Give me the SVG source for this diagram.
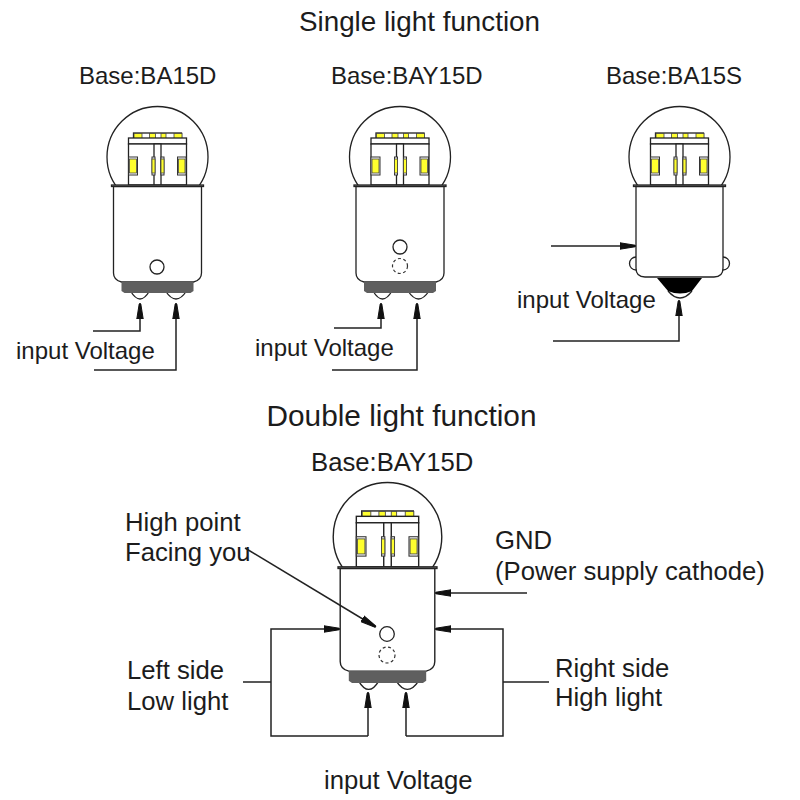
<svg xmlns="http://www.w3.org/2000/svg" xmlns:xlink="http://www.w3.org/1999/xlink" width="800" height="800" viewBox="0 0 800 800">
<style>
text{font-family:"Liberation Sans",Arial,sans-serif;fill:#1c1c1c;font-size:24px}
.b{font-size:25.700px}
.t1{font-size:27.800px}
.t2{font-size:29.800px}
.o{fill:none;stroke:#222;stroke-width:1.3}
.w{fill:#fff;stroke:#222;stroke-width:1.3}
.c{fill:none;stroke:#222;stroke-width:1.5}
.d{fill:#fff;stroke:#333;stroke-width:1.2;stroke-dasharray:3 2.5}
.y{fill:#ffff2e;stroke:#444;stroke-width:.8}
.p{fill:#fff;stroke:#333;stroke-width:1}
</style>
<defs>
<marker id="a" viewBox="0 0 16 8" refX="16" refY="4" markerWidth="16" markerHeight="8" markerUnits="userSpaceOnUse" orient="auto"><path d="M0 .8L15 3.200V4.800L0 7.200Z" fill="#111" stroke="#111" stroke-width="1"/></marker>
<g id="g">
<circle class="o" cx="0" cy="50" r="50.500"/>
<rect class="w" x="-24" y="26" width="48" height="6"/>
<rect class="y" x="-23.500" y="26.500" width="8" height="5"/>
<rect class="y" x="-8" y="26.500" width="6" height="5"/>
<rect class="y" x="3.500" y="26.500" width="5" height="5"/>
<rect class="y" x="16.500" y="26.500" width="8" height="5"/>
<rect class="w" x="-29" y="31" width="58" height="6"/>
<rect class="w" x="-29" y="37" width="58" height="41"/>
<rect class="w" x="-3.500" y="37" width="7" height="41"/>
<rect class="p" x="-29" y="50" width="9" height="18"/><rect class="y" x="-28" y="52" width="7" height="14"/>
<rect class="p" x="-5.500" y="50" width="3" height="18"/><rect class="y" x="-5.500" y="52" width="3" height="14"/>
<rect class="p" x="3.500" y="50" width="3" height="18"/><rect class="y" x="3.500" y="52" width="3" height="14"/>
<rect class="p" x="20" y="50" width="8.500" height="18"/><rect class="y" x="21" y="52" width="6.500" height="14"/>
<rect class="w" x="-46" y="78" width="92" height="1.500"/>
</g>
<g id="d">
<path class="w" d="M-44 79.500V166Q-44 173 -36 175H36Q44 173 44 166V79.500Z"/>
<path class="w" d="M-27 184Q-17.500 200 -8 184M8 184Q18.500 200 29 184"/>
<path d="M-36 175H36V184L33 186H-33L-36 184Z" fill="#5f5f5f"/>
</g>
</defs>
<g id="titles">
<text class="t1" x="419.500" y="31" text-anchor="middle">Single light function</text>
<text class="t2" x="401.500" y="426" text-anchor="middle">Double light function</text>
</g>
<g id="bulb-ba15d">
<use xlink:href="#g" href="#g" x="157.500" y="107"/>
<use xlink:href="#d" href="#d" x="157.500" y="107"/>
<circle class="o" cx="157" cy="267" r="7"/>
<text x="79" y="84">Base:BA15D</text>
</g>
<g id="bulb-bay15d">
<use xlink:href="#g" href="#g" x="400" y="107"/>
<use xlink:href="#d" href="#d" x="400" y="107"/>
<circle class="o" cx="400" cy="247" r="7"/>
<circle class="d" cx="400" cy="266" r="7.500"/>
<text x="331" y="84">Base:BAY15D</text>
</g>
<g id="bulb-ba15s">
<use xlink:href="#g" href="#g" x="679.500" y="107"/>
<path class="o" d="M636 257A6.500 6.500 0 0 0 636 270M723 257A6.500 6.500 0 0 1 723 270"/>
<path class="w" d="M636 186.500V268Q636 277 645 277H714Q723 277 723 268V186.500Z"/>
<path class="o" d="M668 291Q680 305 692 291"/>
<path d="M657 278H702L692 291Q680 296 668 291Z" fill="#000"/>
<text x="606" y="84">Base:BA15S</text>
</g>
<g id="bulb-double" >
<g transform="translate(387.500 483) scale(1.075)">
<use xlink:href="#g" href="#g"/>
<use xlink:href="#d" href="#d"/>
</g>
<circle class="o" cx="387" cy="634" r="7.300"/>
<circle class="d" cx="387" cy="655" r="8"/>
<text class="b" x="311" y="471">Base:BAY15D</text>
</g>
<g id="connectors">
<path class="c" marker-end="url(#a)" d="M93 331H140V303"/>
<path class="c" marker-end="url(#a)" d="M94 370H176V303"/>
<path class="c" marker-end="url(#a)" d="M334 328H381V303"/>
<path class="c" marker-end="url(#a)" d="M332 370H417V303"/>
<path class="c" marker-end="url(#a)" d="M551 246H636"/>
<path class="c" marker-end="url(#a)" d="M553 341H679V300"/>
<path class="c" marker-end="url(#a)" d="M527 593H435"/>
<path class="c" marker-end="url(#a)" d="M245 548L376 627"/>
<path class="c" marker-end="url(#a)" d="M368 736H271V629H340"/>
<path class="c" marker-end="url(#a)" d="M406 736H503V629H435"/>
<path class="c" marker-end="url(#a)" d="M368 736V692"/>
<path class="c" marker-end="url(#a)" d="M406 736V692"/>
<path class="c" d="M243 682H271M503 682H549"/>
</g>
<g id="labels">
<text x="16" y="359">input Voltage</text>
<text x="255" y="356">input Voltage</text>
<text x="517" y="308">input Voltage</text>
<text class="b" x="125" y="531">High point</text>
<text class="b" x="125" y="561">Facing you</text>
<text class="b" x="495" y="549">GND</text>
<text class="b" x="495" y="580">(Power supply cathode)</text>
<text class="b" x="127" y="679">Left side</text>
<text class="b" x="127" y="710">Low light</text>
<text class="b" x="555" y="677">Right side</text>
<text class="b" x="555" y="706">High light</text>
<text class="b" x="324" y="789">input Voltage</text>
</g>
</svg>
